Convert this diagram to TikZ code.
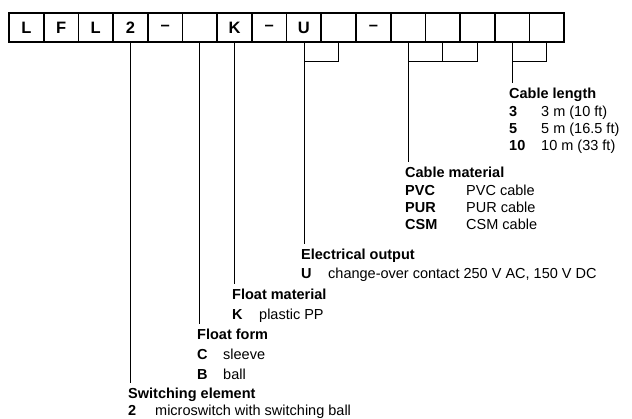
\documentclass[tikz,border=0pt]{standalone}
\usepackage{fontspec}
\setmainfont{Liberation Sans}
\usepackage{tikz}
\usetikzlibrary{positioning,calc}

\tikzset{
  codebox/.style={draw, line width=1.7pt, minimum width=34.7pt, minimum height=29pt,
    inner sep=0pt, font=\fontsize{16.5}{18}\selectfont\bfseries},
  head/.style={anchor=base west, inner sep=0pt, font=\fontsize{14.5}{17}\selectfont\bfseries},
  key/.style={anchor=base west, inner sep=0pt, font=\fontsize{14.5}{17}\selectfont\bfseries},
  val/.style={anchor=base west, inner sep=0pt, font=\fontsize{14.5}{17}\selectfont},
  lead/.style={line width=0.9pt},
}

\begin{document}
\begin{tikzpicture}[x=1pt,y=-1pt]
\useasboundingbox (0,0) rectangle (632,419);

% order code boxes
\foreach \t [count=\i] in {L,F,L,2,–,{},K,–,U,{},–,{},{},{},{},{}}
  \node[codebox] (box\i) at ({9+34.7*(\i-0.5)},27.5) {\t};

% cable length
\node[head] (lenhead) at (509,99) {Cable length};
\node[key] (len3) at (509,117) {3};
\node[val] (len3v) at (541,117) {3 m (10 ft)};
\node[key] (len5) at (509,134) {5};
\node[val] (len5v) at (541,134) {5 m (16.5 ft)};
\node[key] (len10) at (509,151) {10};
\node[val] (len10v) at (541,151) {10 m (33 ft)};

% cable material
\node[head] (cabhead) at (405,178) {Cable material};
\node[key] (pvc) at (405,196) {PVC};
\node[val] (pvcv) at (466,196) {PVC cable};
\node[key] (pur) at (405,213) {PUR};
\node[val] (purv) at (466,213) {PUR cable};
\node[key] (csm) at (405,230) {CSM};
\node[val] (csmv) at (466,230) {CSM cable};

% electrical output
\node[head] (outhead) at (301,260) {Electrical output};
\node[key] (outu) at (301,279) {U};
\node[val] (outuv) at (328,279) {change-over contact 250 V AC, 150 V DC};

% float material
\node[head] (mathead) at (232,300) {Float material};
\node[key] (matk) at (232,320) {K};
\node[val] (matkv) at (259,320) {plastic PP};

% float form
\node[head] (formhead) at (197,340) {Float form};
\node[key] (formc) at (197,360) {C};
\node[val] (formcv) at (223,360) {sleeve};
\node[key] (formb) at (197,380) {B};
\node[val] (formbv) at (223,380) {ball};

% switching element
\node[head] (swhead) at (128,398.5) {Switching element};
\node[key] (sw2) at (128,416) {2};
\node[val] (sw2v) at (155,416) {microswitch with switching ball};

% leader lines
\draw[lead] (box4.south) -- ($(box4.south |- swhead.north)+(0,-5)$);
\draw[lead] (box6.south) -- ($(box6.south |- formhead.north)+(0,-5)$);
\draw[lead] (box7.south) -- ($(box7.south |- mathead.north)+(0,-5)$);
\draw[lead] (box10.south) -- ++(0,19) -| (box9.south);
\draw[lead] (box9.south) -- ($(box9.south |- outhead.north)+(0,-5)$);
\draw[lead] (box14.south) -- ++(0,19) -| (box12.south);
\draw[lead] (box13.south) -- ++(0,19);
\draw[lead] (box12.south) -- ($(box12.south |- cabhead.north)+(0,-5)$);
\draw[lead] (box16.south) -- ++(0,19) -| (box15.south);
\draw[lead] (box15.south) -- ($(box15.south |- lenhead.north)+(0,-5)$);
\end{tikzpicture}
\end{document}
